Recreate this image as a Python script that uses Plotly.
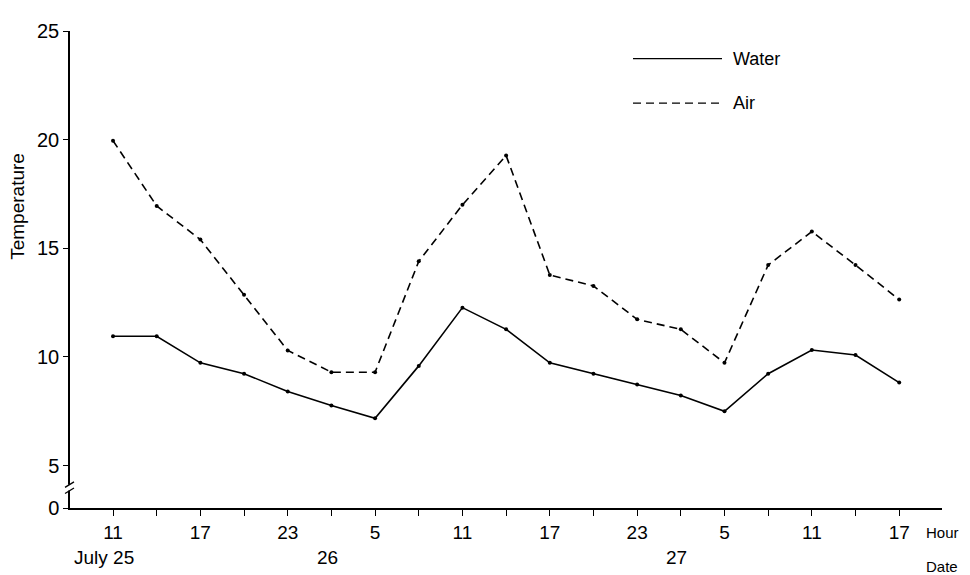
import plotly.graph_objects as go

hours = [11, 14, 17, 20, 23, 2, 5, 8, 11, 14, 17, 20, 23, 2, 5, 8, 11, 14, 17]
water = [10.95, 10.95, 9.73, 9.23, 8.41, 7.77, 7.18, 9.59, 12.27, 11.27, 9.73, 9.23,
         8.73, 8.23, 7.5, 9.23, 10.32, 10.09, 8.82]
air = [19.95, 16.95, 15.4, 12.86, 10.3, 9.3, 9.3, 14.4, 17.0, 19.27, 13.77, 13.27,
       11.73, 11.27, 9.73, 14.23, 15.77, 14.23, 12.64]
date_labels = ["July 25", "26", "27"]
date_pos = [-0.2, 4.92, 12.9]
y_tick_vals = [3.05, 5, 10, 15, 20, 25]
y_tick_text = ["0", "5", "10", "15", "20", "25"]

idx = list(range(len(hours)))
x_tick_text = [str(h) if i % 2 == 0 else "" for i, h in enumerate(hours)]

FONT = "Liberation Sans, Arial, sans-serif"

# plot area in screen pixels: x 70..942, y 25..508 (page has 8px body margin)
PL, PR, PT, PB = 70, 942, 25, 508


def px_x(x):
    return (x - PL) / (PR - PL)


def px_y(y):
    return 1 - (y - PT) / (PB - PT)


fig = go.Figure()
fig.add_trace(go.Scatter(x=idx, y=water, mode="lines+markers", name="Water",
                         line=dict(color="black", width=1.6),
                         marker=dict(color="black", size=4)))
fig.add_trace(go.Scatter(x=idx, y=air, mode="lines+markers", name="Air",
                         line=dict(color="black", width=1.6, dash="8px,5px"),
                         marker=dict(color="black", size=4)))

fig.update_layout(
    width=962, height=567,
    margin=dict(l=PL - 8, r=962 - (PR - 8), t=PT - 8, b=567 - (PB - 8)),
    paper_bgcolor="white", plot_bgcolor="white",
    showlegend=False,
    font=dict(family=FONT, color="black"),
    xaxis=dict(range=[-0.985, 18.98], tickvals=idx, ticktext=x_tick_text,
               showline=True, linecolor="black", linewidth=1.5,
               ticks="outside", ticklen=6, tickcolor="black", tickwidth=1.2,
               showgrid=False, zeroline=False, tickfont=dict(size=19)),
    yaxis=dict(range=[3.05, 25], tickvals=y_tick_vals, ticktext=y_tick_text,
               showline=True, linecolor="black", linewidth=1.5,
               ticks="outside", ticklen=5, tickcolor="black", tickwidth=1.2,
               showgrid=False, zeroline=False, tickfont=dict(size=20)),
)

# date labels
for lab, pos in zip(date_labels, date_pos):
    fig.add_annotation(x=pos, y=0, xref="x", yref="paper", yshift=-49,
                       text=lab, showarrow=False, font=dict(size=19),
                       xanchor="center", yanchor="middle")
fig.add_annotation(x=px_x(924), xref="paper", y=0, yref="paper", yshift=-24,
                   text="Hour", showarrow=False, font=dict(size=15),
                   xanchor="left", yanchor="middle")
fig.add_annotation(x=px_x(924), xref="paper", y=0, yref="paper", yshift=-58,
                   text="Date", showarrow=False, font=dict(size=15),
                   xanchor="left", yanchor="middle")

# y axis title
fig.add_annotation(x=px_x(18), xref="paper", y=px_y(203), yref="paper",
                   text="Temperature", textangle=-90, showarrow=False,
                   font=dict(size=19), xanchor="center", yanchor="middle")

# axis break marks
fig.add_shape(type="rect", xref="paper", yref="y", xsizemode="pixel", xanchor=0,
              x0=-3, x1=3, y0=3.85, y1=4.12, fillcolor="white", line=dict(width=0))
fig.add_shape(type="line", xref="paper", yref="y", xsizemode="pixel", xanchor=0,
              x0=-5, x1=4, y0=4.0, y1=4.25, line=dict(color="black", width=1.3))
fig.add_shape(type="line", xref="paper", yref="y", xsizemode="pixel", xanchor=0,
              x0=-5, x1=4, y0=3.72, y1=3.97, line=dict(color="black", width=1.3))

# legend drawn manually
leg = [("Water", "solid", 53), ("Air", "8px,5px", 98)]
for name, dash, ypx in leg:
    fig.add_shape(type="line", xref="paper", yref="paper",
                  x0=px_x(633), x1=px_x(722), y0=px_y(ypx), y1=px_y(ypx),
                  line=dict(color="black", width=1.4, dash=dash))
    fig.add_annotation(x=px_x(731), y=px_y(ypx), xref="paper", yref="paper",
                       text=name, showarrow=False, font=dict(size=18),
                       xanchor="left", yanchor="middle")

fig.write_html("out.html")
